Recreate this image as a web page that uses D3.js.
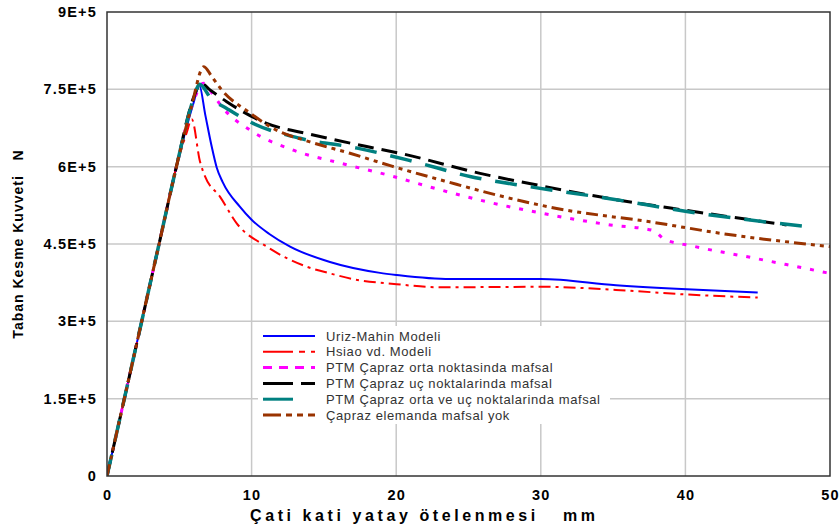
<!DOCTYPE html>
<html><head><meta charset="utf-8">
<script src="https://cdn.jsdelivr.net/npm/d3@7"></script>
<style>body{margin:0;background:#fff}svg{display:block}text{font-family:"Liberation Sans",Arial,sans-serif}</style>
</head><body><svg id="c" width="840" height="530"></svg>
<script>
const xTicks=[0,10,20,30,40,50];
const yTicks=[0,150000,300000,450000,600000,750000,900000];
const yTickLabels=["0","1.5E+5","3E+5","4.5E+5","6E+5","7.5E+5","9E+5"];
const seriesNames=["Uriz-Mahin Modeli","Hsiao vd. Modeli","PTM Çapraz orta noktasinda mafsal","PTM Çapraz uç noktalarinda mafsal","PTM Çapraz orta ve uç noktalarinda mafsal","Çapraz elemanda mafsal yok"];
const uriz=[[0,0],[1.2,150000],[2.4,300000],[3.6,450000],[4.8,600000],[6.0,725000],[6.38,758000],[6.8,700000],[7.24,639000],[7.58,599000],[8.0,570000],[9.2,522000],[10.0,497000],[11.2,470000],[12.66,445000],[15.42,415000],[18.88,394000],[20.03,390000],[23.72,382000],[30,382000],[35.2,370000],[40.1,362000],[45,356000]];
const hsiao=[[0,0],[1.2,150000],[2.4,300000],[3.6,450000],[4.8,600000],[5.5,665000],[5.86,692000],[6.43,610000],[6.78,581000],[7.81,542000],[8.97,490000],[11.04,445000],[13.81,406000],[15.42,393000],[17.0,382000],[20.03,372000],[23.0,366000],[30,367000],[35.2,361000],[40.1,352000],[45,346000]];
const ptmOrta=[[0,0],[1.2,150000],[2.4,300000],[3.6,450000],[4.8,600000],[6.0,728000],[6.66,762000],[7.35,739000],[8.04,713000],[9.89,671000],[12.88,632000],[16.11,607000],[19.8,581000],[21.9,564000],[25.8,535000],[30,510000],[34.8,487000],[37.8,476000],[38.5,460000],[40.5,446000],[44.5,424000],[50,393000]];
const ptmUc=[[0,0],[1.2,150000],[2.4,300000],[3.6,450000],[4.8,600000],[6.0,735000],[6.5,762000],[7.12,749000],[8.28,726000],[11.04,684000],[14.04,663000],[17.96,639000],[20.26,626000],[25.8,587000],[30,563000],[35,537000],[40.1,515000],[47.0,487000]];
const ptmOrtaUc=[[0,0],[1.2,150000],[2.4,300000],[3.6,450000],[4.8,600000],[6.0,733000],[6.4,760000],[7.2,732000],[8.28,713000],[10.1,684000],[13.35,655000],[17.3,636000],[21.2,610000],[25.1,581000],[29.25,561000],[35,537000],[40.1,513000],[48.3,484000]];
const mafsalYok=[[0,0],[1.2,150000],[2.4,300000],[3.6,450000],[4.8,600000],[5.8,712000],[6.7,794000],[7.24,775000],[7.93,749000],[9.89,704000],[11.5,674000],[14.04,648000],[16.8,626000],[19.7,601000],[23.5,571000],[26.95,545000],[31.1,519000],[37.55,493000],[42.85,469000],[50,445000]];
const seriesData=[uriz,hsiao,ptmOrta,ptmUc,ptmOrtaUc,mafsalYok];
const colors=["#0000ff","#ff0000","#ff00ff","#000000","#008080","#993300"];
const widths=[2,2,3,3,3.5,3];
const dashes=[null,"12,5,3,5","4,9","16,8","22,14","12,5,4,5,4,5"];
const legendDashes=[null,"30,6,6,6,6","9,7","30,8","30,40","18,5,6,5,6,5"];

const svg=d3.select("#c");
const L=107,R=830,T=12,B=476;
const x=d3.scaleLinear().domain([0,50]).range([L,R]);
const y=d3.scaleLinear().domain([0,900000]).range([B,T]);

svg.append("g").selectAll("line").data(xTicks.slice(1,-1)).join("line")
 .attr("x1",d=>x(d)).attr("x2",d=>x(d)).attr("y1",T).attr("y2",B)
 .attr("stroke","#c8c8c8").attr("stroke-width",1.5);
svg.append("g").selectAll("line").data(yTicks.slice(1,-1)).join("line")
 .attr("x1",L).attr("x2",R).attr("y1",d=>y(d)).attr("y2",d=>y(d))
 .attr("stroke","#c8c8c8").attr("stroke-width",1.5);

svg.append("rect").attr("x",258).attr("y",326).attr("width",352).attr("height",98).attr("fill","#fff");

const line=d3.line().x(d=>x(d[0])).y(d=>y(d[1])).curve(d3.curveMonotoneX);
svg.append("clipPath").attr("id","cp").append("rect").attr("x",L).attr("y",T).attr("width",R-L).attr("height",B-T);
seriesData.forEach((s,i)=>{
  svg.append("path").attr("d",line(s)).attr("fill","none").attr("stroke",colors[i])
   .attr("stroke-width",widths[i]).attr("stroke-dasharray",dashes[i]).attr("clip-path","url(#cp)");
});

const xAxis=d3.axisBottom(x).tickValues(xTicks).tickSize(0).tickPadding(14).tickFormat(d3.format("d"));
const gx=svg.append("g").attr("transform",`translate(0,${B})`).call(xAxis);
const yAxis=d3.axisLeft(y).tickValues(yTicks).tickSize(0).tickPadding(10).tickFormat((d,i)=>yTickLabels[i]);
const gy=svg.append("g").attr("transform",`translate(${L},0)`).call(yAxis);
[gx,gy].forEach(g=>{g.select(".domain").remove();g.selectAll("text").attr("font-size",14.5).attr("font-weight","bold").attr("fill","#000").attr("letter-spacing","1.2px").attr("font-family","Liberation Sans, Arial, sans-serif");});
svg.append("rect").attr("x",L).attr("y",T).attr("width",R-L).attr("height",B-T).attr("fill","none").attr("stroke","#333").attr("stroke-width",1.5);

svg.append("text").attr("x",250).attr("y",521).attr("font-size",16).attr("font-weight","bold")
 .attr("textLength",345).attr("lengthAdjust","spacing").style("white-space","pre")
 .text("Çati kati yatay ötelenmesi   mm");
svg.append("text").attr("transform","translate(23,244) rotate(-90)").attr("text-anchor","middle").attr("font-size",14).attr("font-weight","bold").attr("letter-spacing","1px")
 .style("white-space","pre").text("Taban Kesme Kuvveti   N");

const lg=svg.append("g");
seriesNames.forEach((n,i)=>{
  const yy=336+i*15.8;
  lg.append("line").attr("x1",263).attr("x2",315).attr("y1",yy).attr("y2",yy).attr("stroke",colors[i])
   .attr("stroke-width",i<2?2:3).attr("stroke-dasharray",legendDashes[i]);
  lg.append("text").attr("x",326).attr("y",yy+4.5).attr("font-size",13).attr("letter-spacing","0.6px").attr("fill","#333").text(n);
});
</script></body></html>
